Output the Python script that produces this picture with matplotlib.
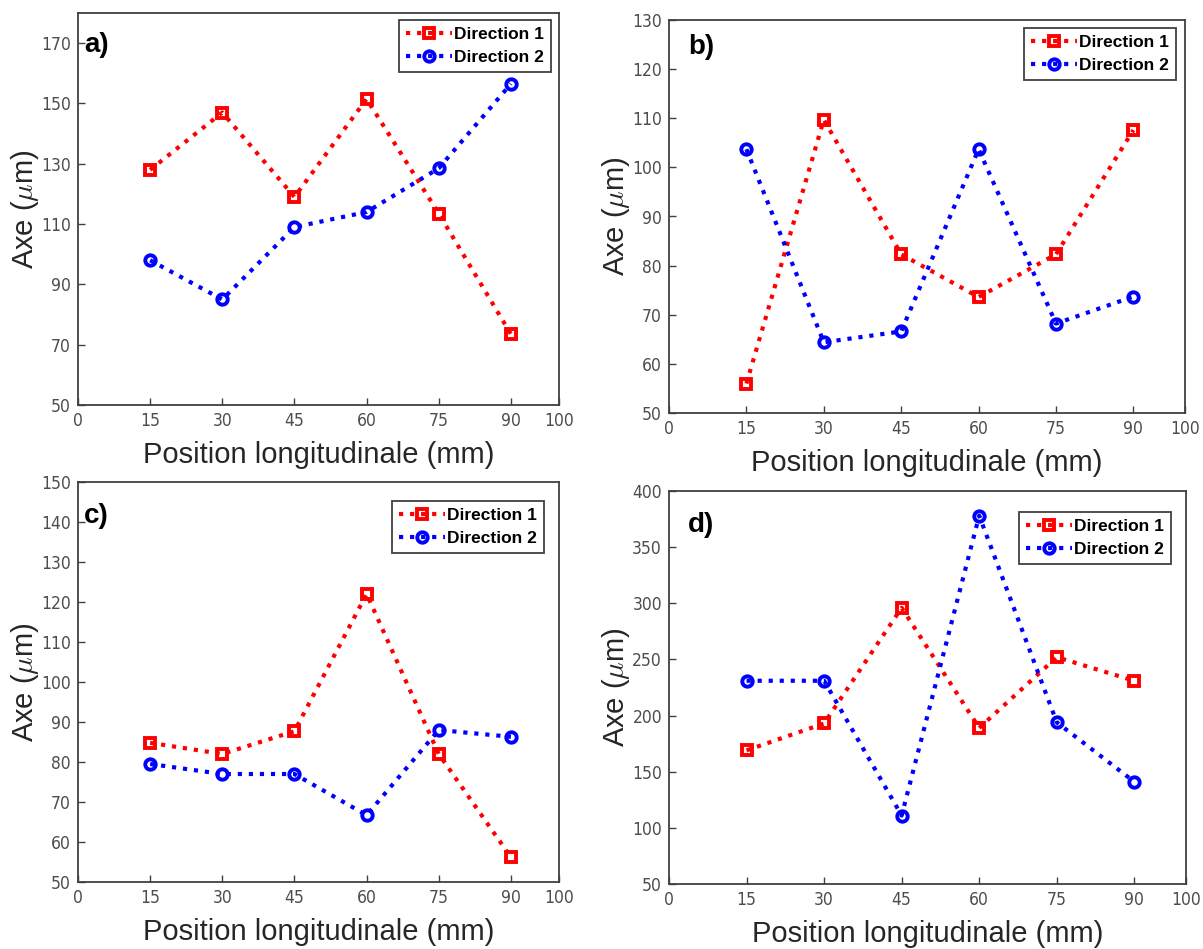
import matplotlib
matplotlib.use("Agg")
import matplotlib.pyplot as plt
from matplotlib import font_manager

# position longitudinale (mm)
positions = [15, 30, 45, 60, 75, 90]

# a)
a_dir1 = [128, 147, 119, 151.5, 113.5, 73.5]
a_dir2 = [98, 85, 109, 114, 128.5, 156.5]
# b)
b_dir1 = [56, 109.7, 82.3, 73.6, 82.3, 107.6]
b_dir2 = [103.7, 64.4, 66.6, 103.7, 68.2, 73.7]
# c)
c_dir1 = [84.8, 82, 87.7, 122, 82, 56.2]
c_dir2 = [79.5, 77, 77, 66.7, 88, 86.3]
# d)
d_dir1 = [169, 193, 296, 189, 252, 231]
d_dir2 = [231, 231, 111, 378, 194, 141]

panel_labels = ["a)", "b)", "c)", "d)"]
ylims = [(50, 180), (50, 130), (50, 150), (50, 400)]
yticks = [range(50, 171, 20), range(50, 131, 10), range(50, 151, 10), range(50, 401, 50)]
xticks = [0, 15, 30, 45, 60, 75, 90, 100]

W, H = 1203, 949
# boites des axes en pixels : gauche, haut, droite, bas
boxes = [(78, 13, 559, 405), (669, 20, 1185, 413),
         (78, 482, 559, 882), (669, 491, 1186, 884)]
# decalage de la legende depuis le coin haut-droit (px)
leg_off = [(8, 7), (9, 8), (15, 19), (15, 21)]
# position de la lettre (px depuis coin haut-gauche, ligne de base)
lab_off = [(6, 39), (19, 34), (6, 41), (19, 41)]

# police etroite pour les graduations si dispo
narrow = None
for f in font_manager.fontManager.ttflist:
    if ('Narrow' in f.name or 'Condensed' in f.fname) and f.weight in (400, 'normal', 'regular') \
            and f.style == 'normal':
        narrow = f.fname
        break

plt.rcParams['font.family'] = ['Liberation Sans', 'DejaVu Sans']
plt.rcParams['mathtext.fontset'] = 'cm'

fig = plt.figure(figsize=(W / 100, H / 100), dpi=100)

data = [(a_dir1, a_dir2), (b_dir1, b_dir2), (c_dir1, c_dir2), (d_dir1, d_dir2)]

for i, (d1, d2) in enumerate(data):
    l, t, r, b = boxes[i]
    w, h = r - l, b - t
    ax = fig.add_axes([l / W, 1 - b / H, w / W, h / H])
    ax.plot(positions, d1, color='red', ls=':', lw=3, marker='s', ms=7.5,
            mfc='none', mew=2.8, label='Direction 1')
    ax.plot(positions, d2, color='blue', ls=':', lw=3, marker='o', ms=7.5,
            mfc='none', mew=2.8, label='Direction 2')
    ax.set_xlim(0, 100)
    ax.set_ylim(*ylims[i])
    ax.set_xticks(xticks)
    ax.set_yticks(list(yticks[i]))
    ax.tick_params(direction='in', length=5, width=1, colors='#404040', pad=5)
    ax.tick_params(labelcolor='#4d4d4d')
    if narrow:
        fp = font_manager.FontProperties(fname=narrow, size=12.5)
    else:
        fp = font_manager.FontProperties(family='Liberation Sans', size=11.5)
    for lab in ax.get_xticklabels() + ax.get_yticklabels():
        lab.set_fontproperties(fp)
    for sp in ax.spines.values():
        sp.set_color('#404040')
        sp.set_linewidth(1.3)

    ax.set_xlabel('Position longitudinale (mm)', fontsize=21, color='#262626')
    ax.xaxis.label.set_va('center')
    ax.xaxis.set_label_coords(0.5, -50 / h)
    ax.set_ylabel(r'Axe ($\mu$m)', fontsize=21, color='#262626')
    ax.yaxis.label.set_va('center')
    ax.yaxis.set_label_coords(-53 / w, 0.5)

    lx, ly = lab_off[i]
    ax.text(lx / w, 1 - ly / h, panel_labels[i], transform=ax.transAxes, fontsize=20,
            fontweight='bold', va='baseline', ha='left')

    dx, dy = leg_off[i]
    leg = ax.legend(loc='upper right', bbox_to_anchor=(1 - dx / w, 1 - dy / h),
                    borderaxespad=0, fancybox=False, edgecolor='#404040',
                    framealpha=1, handlelength=2.6, handletextpad=0.15,
                    borderpad=0.4, labelspacing=0.45,
                    prop={'weight': 'bold', 'size': 12.5})
    leg.get_frame().set_linewidth(1.3)

fig.savefig('out.png', dpi=100)
